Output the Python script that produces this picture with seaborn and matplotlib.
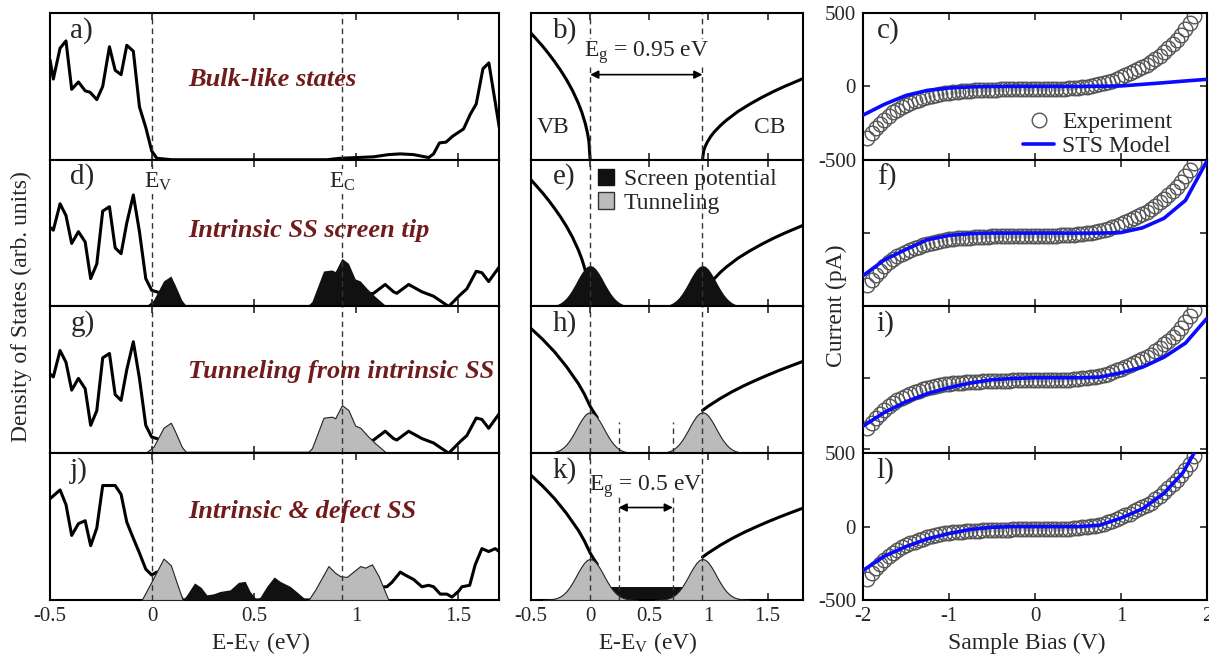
import numpy as np
import matplotlib
matplotlib.use("Agg")
import matplotlib.pyplot as plt
from matplotlib.patches import Patch
from matplotlib.lines import Line2D
import seaborn as sns

# ----------------------------
# Data
# ----------------------------
# left column: DOS (arb. units) vs E-Ev (eV)
bulk_e = [-0.5, -0.484, -0.451, -0.422, -0.394, -0.361, -0.328, -0.304, -0.271, -0.242,
          -0.209, -0.181, -0.152, -0.124, -0.092, -0.062, -0.031, -0.002, 0.023, 0.096,
          0.856, 0.922, 1.085, 1.158, 1.216, 1.281, 1.355, 1.379, 1.408, 1.44,
          1.472, 1.526, 1.559, 1.588, 1.621, 1.65, 1.701]
bulk_dos = [0.68, 0.55, 0.76, 0.81, 0.48, 0.53, 0.47, 0.46, 0.41, 0.50,
            0.77, 0.61, 0.58, 0.78, 0.74, 0.36, 0.22, 0.06, 0.01, 0.0,
            0.0, 0.01, 0.02, 0.035, 0.04, 0.035, 0.015, 0.04, 0.115, 0.12,
            0.16, 0.21, 0.31, 0.38, 0.62, 0.66, 0.22]

ss_e = [-0.5, -0.484, -0.451, -0.422, -0.394, -0.361, -0.328, -0.301, -0.271, -0.242,
        -0.209, -0.181, -0.152, -0.124, -0.092, -0.062, -0.031, -0.002, 0.023, 0.06,
        0.15, 0.8, 0.95, 1.05, 1.085, 1.142, 1.183, 1.199, 1.257, 1.322,
        1.379, 1.453, 1.51, 1.542, 1.588, 1.616, 1.649, 1.701]
ss_dos = [0.54, 0.52, 0.70, 0.62, 0.43, 0.51, 0.44, 0.19, 0.29, 0.65,
          0.68, 0.40, 0.36, 0.57, 0.76, 0.51, 0.19, 0.11, 0.10, 0.08,
          0.0, 0.0, 0.05, 0.08, 0.09, 0.15, 0.10, 0.09, 0.15, 0.10,
          0.07, 0.0, 0.08, 0.12, 0.24, 0.23, 0.17, 0.27]
ss_peak1_e = [-0.034, 0.007, 0.056, 0.092, 0.113, 0.145, 0.170]
ss_peak1 = [0, 0.045, 0.174, 0.208, 0.147, 0.045, 0]
ss_peak2_e = [0.758, 0.783, 0.840, 0.881, 0.897, 0.930, 0.962, 0.995, 1.020, 1.052, 1.093, 1.150]
ss_peak2 = [0, 0.034, 0.242, 0.249, 0.238, 0.328, 0.294, 0.188, 0.174, 0.124, 0.068, 0]

def_e = [-0.5, -0.451, -0.422, -0.394, -0.361, -0.328, -0.301, -0.271, -0.242, -0.181,
         -0.152, -0.124, -0.092, -0.062, -0.031, -0.002, 0.023, 0.08, 0.15, 0.8,
         1.0, 1.15, 1.175, 1.216, 1.24, 1.281, 1.322, 1.355, 1.379, 1.412,
         1.444, 1.469, 1.502, 1.518, 1.556, 1.583, 1.616, 1.649, 1.681, 1.701]
def_dos = [0.69, 0.75, 0.65, 0.44, 0.52, 0.54, 0.37, 0.49, 0.78, 0.78,
           0.72, 0.53, 0.42, 0.32, 0.21, 0.17, 0.19, 0.15, 0.0, 0.0,
           0.08, 0.09, 0.12, 0.19, 0.17, 0.14, 0.09, 0.10, 0.09, 0.04,
           0.04, 0.02, 0.06, 0.09, 0.10, 0.24, 0.35, 0.33, 0.35, 0.33]
def_peak1_e = [-0.051, -0.002, 0.056, 0.092, 0.121, 0.150]
def_peak1 = [0, 0.127, 0.282, 0.236, 0.116, 0]
defect_e = [0.150, 0.170, 0.208, 0.240, 0.268, 0.301, 0.333, 0.382, 0.423, 0.456,
            0.480, 0.510, 0.529, 0.562, 0.598, 0.627, 0.676, 0.717, 0.745, 0.766]
defect = [0, 0.035, 0.116, 0.086, 0.035, 0.042, 0.058, 0.069, 0.120, 0.127,
          0.058, 0.005, 0.019, 0.093, 0.157, 0.127, 0.093, 0.046, 0.012, 0]
def_peak2_e = [0.766, 0.799, 0.864, 0.897, 0.922, 0.954, 1.020, 1.044, 1.077, 1.110, 1.158]
def_peak2 = [0, 0.069, 0.231, 0.185, 0.162, 0.157, 0.231, 0.220, 0.243, 0.162, 0]

ev_dft, ec_dft = 0.0, 0.93

# middle column: model band edges
vb_e = [-0.5, -0.45, -0.4, -0.35, -0.3, -0.25, -0.2, -0.15, -0.1, -0.07, -0.04, -0.02, -0.01, 0]
vb = [0.863, 0.818, 0.772, 0.722, 0.668, 0.61, 0.546, 0.473, 0.386, 0.323, 0.244, 0.173, 0.122, 0]
cb_e = [0.95, 0.96, 0.97, 0.99, 1.02, 1.05, 1.1, 1.15, 1.25, 1.35, 1.45, 1.55, 1.65, 1.8]
cb = [0, 0.06, 0.085, 0.12, 0.159, 0.19, 0.232, 0.268, 0.329, 0.379, 0.424, 0.465, 0.502, 0.553]
vb_bent_e = [-0.5, -0.4, -0.3, -0.2, -0.1, -0.05, 0, 0.03, 0.06]
vb_bent = [0.85, 0.775, 0.69, 0.59, 0.475, 0.405, 0.32, 0.28, 0.244]
cb_bent_e = [0.95, 1.0, 1.1, 1.2, 1.3, 1.4, 1.5, 1.6, 1.7, 1.8]
cb_bent = [0.292, 0.321, 0.373, 0.419, 0.46, 0.497, 0.532, 0.565, 0.596, 0.626]
# surface-state bump profile (offset from its centre)
bump_dx = [-0.4, -0.35, -0.3, -0.275, -0.25, -0.225, -0.2, -0.175, -0.15, -0.125, -0.1, -0.075,
           -0.05, -0.025, 0, 0.025, 0.05, 0.075, 0.1, 0.125, 0.15, 0.175, 0.2, 0.225,
           0.25, 0.275, 0.3, 0.35, 0.4]
bump = [0, 0.0025, 0.009, 0.015, 0.025, 0.040, 0.060, 0.086, 0.118, 0.153, 0.191, 0.225,
        0.254, 0.273, 0.28, 0.273, 0.254, 0.225, 0.191, 0.153, 0.118, 0.086, 0.060, 0.040,
        0.025, 0.015, 0.009, 0.0025, 0]
bump_centres = [0.0, 0.95]
band_e = [0.17, 0.78]
band_top = [0.09, 0.09]
ev_model, ec_model = 0.0, 0.95
eg_defect = [0.24, 0.70]

# right column: I-V curves
bias_exp = np.round(np.arange(77) * 0.05 - 1.95, 2)
current_exp = [-355, -318, -285, -255, -226, -200, -178, -158, -141, -126,
               -113, -102, -92, -82, -73, -65, -58, -52, -47, -43,
               -39, -36, -34, -32, -30, -28, -27, -25, -24, -23,
               -22, -21, -20, -20, -19, -19, -18, -18, -18, -18,
               -18, -18, -18, -17, -17, -16, -15, -13, -11, -8,
               -5, -2, 2, 7, 13, 20, 29, 39, 51, 63,
               76, 89, 103, 117, 131, 146, 163, 185, 210, 235,
               260, 287, 315, 350, 388, 430, 478]
bias_model = [-2, -1.75, -1.5, -1.25, -1, -0.75, -0.5, -0.25, 0, 0.25, 0.5, 0.75, 1, 1.25, 1.5, 1.75, 2]
model_c = [-196, -122, -62, -27, -11, -4, -1, 0, 0, 0, 0, 1, 3, 14, 25, 37, 48]
model_f = [-290, -182, -111, -45, -16, -4, 0, 0, 0, 0, 0, 0, 4, 36, 101, 223, 492]
model_i = [-340, -243, -169, -111, -69, -37, -14, -5, 0, 0, 0, 4, 35, 74, 144, 243, 417]
bias_model_l = [-2, -1.75, -1.5, -1.25, -1, -0.75, -0.5, -0.25, 0, 0.25, 0.5, 0.75, 1, 1.25, 1.5, 1.72, 1.85]
model_l = [-299, -201, -136, -84, -47, -19, -5, 0, 0, 0, 0, 9, 58, 121, 227, 367, 500]
iv_ylims = [(-500, 500), (-400, 500), (-530, 500), (-500, 500)]

e_ticks = [-0.5, 0, 0.5, 1, 1.5]
e_ticklabels = ["-0.5", "0", "0.5", "1", "1.5"]
bias_ticks = [-2, -1, 0, 1, 2]
bias_ticklabels = ["-2", "-1", "0", "1", "2"]
cur_ticks = [-500, 0, 500]
cur_ticklabels = ["-500", "0", "500"]

left_titles = ["Bulk-like states", "Intrinsic SS screen tip",
               "Tunneling from intrinsic SS", "Intrinsic & defect SS"]
left_title_y = [0.55, 0.52, 0.56, 0.60]
panel_labels = [["a)", "b)", "c)"], ["d)", "e)", "f)"], ["g)", "h)", "i)"], ["j)", "k)", "l)"]]

# ----------------------------
# Style
# ----------------------------
sns.set_theme(style="ticks")
plt.rcParams["font.family"] = ["Liberation Serif", "DejaVu Serif"]
plt.rcParams["mathtext.fontset"] = "custom"
plt.rcParams["mathtext.rm"] = "Liberation Serif"
plt.rcParams["mathtext.it"] = "Liberation Serif:italic"
plt.rcParams["axes.unicode_minus"] = False
plt.rcParams["axes.linewidth"] = 1.5
plt.rcParams["axes.edgecolor"] = "black"

DARKRED = "#701c1c"
GRAY = "#bbbbbb"
BLACK = "#111111"
BLUE = "#0a0aff"
DASH = dict(color="#333333", lw=1.0, ls=(0, (4, 3)), zorder=4)

fig = plt.figure(figsize=(12.09, 6.57), dpi=100)
top, row_h = 0.9802, 0.22335
cols = [(0.0414, 0.3714), (0.4392, 0.225), (0.7138, 0.2845)]
axes = [[fig.add_axes([x, top - (r + 1) * row_h, w, row_h]) for (x, w) in cols] for r in range(4)]


def style_energy_axis(ax, xlim, bottom):
    ax.set_xlim(*xlim)
    ax.set_ylim(0, 1)
    ax.set_yticks([])
    ax.set_xticks(e_ticks)
    ax.set_xticklabels(e_ticklabels)
    ax.tick_params(axis="x", direction="in", top=True, bottom=True, length=5, width=1.2,
                   labelsize=15, labelbottom=bottom, pad=5)
    ax.set_xlabel("")
    ax.set_ylabel("")


# ----------------------------
# Left column: DFT density of states
# ----------------------------
left_lines = [(bulk_e, bulk_dos), (ss_e, ss_dos), (ss_e, ss_dos), (def_e, def_dos)]
for r in range(4):
    ax = axes[r][0]
    ex, dy = left_lines[r]
    sns.lineplot(x=ex, y=dy, ax=ax, color="black", lw=2.2, estimator=None, zorder=2)
    if r == 1:
        ax.fill_between(ss_peak1_e, ss_peak1, color=BLACK, lw=0, zorder=3)
        ax.fill_between(ss_peak2_e, ss_peak2, color=BLACK, lw=0, zorder=3)
    elif r == 2:
        ax.fill_between(ss_peak1_e, ss_peak1, fc=GRAY, ec="#222222", lw=0.8, zorder=3)
        ax.fill_between(ss_peak2_e, ss_peak2, fc=GRAY, ec="#222222", lw=0.8, zorder=3)
    elif r == 3:
        ax.fill_between(def_peak1_e, def_peak1, fc=GRAY, ec="#222222", lw=0.8, zorder=3)
        ax.fill_between(defect_e, defect, color=BLACK, lw=0, zorder=3)
        ax.fill_between(def_peak2_e, def_peak2, fc=GRAY, ec="#222222", lw=0.8, zorder=3)
    ax.axvline(ev_dft, **DASH)
    ax.axvline(ec_dft, **DASH)
    style_energy_axis(ax, (-0.5, 1.7), r == 3)
    ax.text(0.176, left_title_y[r], left_titles[r], color=DARKRED, fontsize=19,
            fontweight="bold", fontstyle="italic", ha="left", va="center", zorder=5)
    ax.text(0.045, 0.975, panel_labels[r][0], transform=ax.transAxes, fontsize=21,
            ha="left", va="top", zorder=5)

axes[1][0].text(0.03, 0.85, r"E$_\mathrm{V}$", fontsize=17, ha="center", va="center",
                zorder=5, bbox=dict(fc="white", ec="none", pad=1))
axes[1][0].text(ec_dft, 0.85, r"E$_\mathrm{C}$", fontsize=17, ha="center", va="center",
                zorder=5, bbox=dict(fc="white", ec="none", pad=1))

# ----------------------------
# Middle column: model band diagrams
# ----------------------------
for r in range(4):
    ax = axes[r][1]
    if r < 2:
        sns.lineplot(x=vb_e, y=vb, ax=ax, color="black", lw=2.2, estimator=None, zorder=2)
        sns.lineplot(x=cb_e, y=cb, ax=ax, color="black", lw=2.2, estimator=None, zorder=2)
    else:
        sns.lineplot(x=vb_bent_e, y=vb_bent, ax=ax, color="black", lw=2.2, estimator=None, zorder=2)
        sns.lineplot(x=cb_bent_e, y=cb_bent, ax=ax, color="black", lw=2.2, estimator=None, zorder=2)
    if r == 3:
        ax.fill_between(band_e, band_top, color=BLACK, lw=0, zorder=2.5)
    if r >= 1:
        for c0 in bump_centres:
            bx = [c0 + d for d in bump_dx]
            if r == 1:
                ax.fill_between(bx, bump, color=BLACK, lw=0, zorder=3)
            else:
                ax.fill_between(bx, bump, fc=GRAY, ec="#222222", lw=0.8, zorder=3)
    ax.axvline(ev_model, **DASH)
    ax.axvline(ec_model, **DASH)
    style_energy_axis(ax, (-0.5, 1.8), r == 3)
    ax.text(0.08, 0.975, panel_labels[r][1], transform=ax.transAxes, fontsize=21,
            ha="left", va="top", zorder=5)

ax = axes[0][1]
ax.annotate("", xy=(ev_model, 0.58), xytext=(ec_model, 0.58),
            arrowprops=dict(arrowstyle="<|-|>", color="black", lw=1.2, mutation_scale=12,
                            shrinkA=0, shrinkB=0))
ax.text(0.475, 0.73, r"E$_\mathrm{g}$ = 0.95 eV", fontsize=17, ha="center", va="center",
        zorder=5, bbox=dict(fc="white", ec="none", pad=0.5))
ax.text(-0.31, 0.22, "VB", fontsize=17, ha="center", va="center")
ax.text(1.52, 0.22, "CB", fontsize=17, ha="center", va="center")

ax = axes[1][1]
ax.legend(handles=[Patch(fc=BLACK, ec=BLACK, label="Screen potential"),
                   Patch(fc=GRAY, ec="#333333", label="Tunneling")],
          loc="upper left", bbox_to_anchor=(0.245, 0.94), frameon=False, fontsize=17,
          handlelength=0.7, handleheight=0.7, handletextpad=0.4, borderaxespad=0,
          borderpad=0, labelspacing=0.1)

ax = axes[2][1]
for x0 in eg_defect:
    ax.plot([x0, x0], [0, 0.21], **DASH)
ax = axes[3][1]
for x0 in eg_defect:
    ax.plot([x0, x0], [0, 0.72], **DASH)
ax.annotate("", xy=(eg_defect[0], 0.63), xytext=(eg_defect[1], 0.63),
            arrowprops=dict(arrowstyle="<|-|>", color="black", lw=1.2, mutation_scale=12,
                            shrinkA=0, shrinkB=0))
ax.text(0.47, 0.77, r"E$_\mathrm{g}$ = 0.5 eV", fontsize=17, ha="center", va="center", zorder=5)

# ----------------------------
# Right column: I-V spectra
# ----------------------------
models = [(bias_model, model_c), (bias_model, model_f), (bias_model, model_i), (bias_model_l, model_l)]
for r in range(4):
    ax = axes[r][2]
    sns.lineplot(x=bias_exp, y=current_exp, ax=ax, marker="o", linestyle="none",
                 markerfacecolor="none", markeredgecolor="#555555", markeredgewidth=1.0,
                 markersize=10.5, estimator=None, zorder=2)
    mx, my = models[r]
    sns.lineplot(x=mx, y=my, ax=ax, color=BLUE, lw=2.6, estimator=None, zorder=3)
    ax.set_xlim(-2, 2)
    ax.set_ylim(*iv_ylims[r])
    ax.set_xticks(bias_ticks)
    ax.set_xticklabels(bias_ticklabels)
    ax.set_yticks(cur_ticks)
    ax.set_yticklabels(cur_ticklabels)
    show_y = r in (0, 3)
    ax.tick_params(direction="in", top=True, right=True, bottom=True, left=True,
                   length=5, width=1.2, labelsize=15, labelbottom=(r == 3),
                   labelleft=show_y, pad=5)
    ax.set_xlabel("")
    ax.set_ylabel("")
    ax.text(0.04, 0.975, panel_labels[r][2], transform=ax.transAxes, fontsize=21,
            ha="left", va="top", zorder=5)

axes[0][2].legend(handles=[Line2D([], [], marker="o", ls="none", mfc="none", mec="#555555",
                                  ms=10.5, label="Experiment"),
                           Line2D([], [], color=BLUE, lw=2.6, label="STS Model")],
                  loc="lower right", bbox_to_anchor=(0.9, 0.02), frameon=False, fontsize=17,
                  handlelength=1.3, handletextpad=0.35, borderaxespad=0, borderpad=0,
                  labelspacing=0.1)

# axis titles
fig.text(0.018, 0.534, "Density of States (arb. units)", rotation=90, fontsize=17,
         ha="center", va="center")
fig.text(0.692, 0.535, "Current (pA)", rotation=90, fontsize=17, ha="center", va="center")
fig.text(0.216, 0.021, r"E-E$_\mathrm{V}$ (eV)", fontsize=17, ha="center", va="center")
fig.text(0.536, 0.021, r"E-E$_\mathrm{V}$ (eV)", fontsize=17, ha="center", va="center")
fig.text(0.849, 0.021, "Sample Bias (V)", fontsize=17, ha="center", va="center")

fig.savefig("out.png", dpi=100)
